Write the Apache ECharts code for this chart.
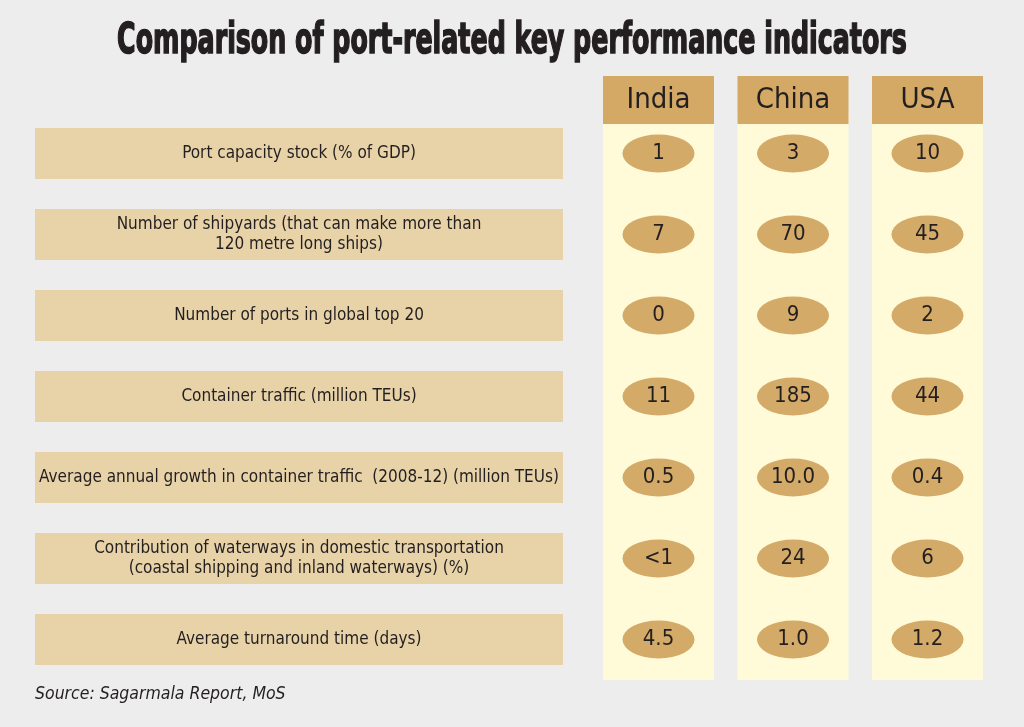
<!DOCTYPE html>
<html>
<head>
<meta charset="utf-8">
<script src="https://cdn.jsdelivr.net/npm/echarts@6/dist/echarts.min.js"></script>
<style>
  html, body { margin: 0; padding: 0; background: #ededed; }
  #main { width: 1024px; height: 727px; }
</style>
</head>
<body>
<div id="main"></div>
<script>
var countries = ['India', 'China', 'USA'];
var indicators = [
  'Port capacity stock (% of GDP)',
  'Number of shipyards (that can make more than\n120 metre long ships)',
  'Number of ports in global top 20',
  'Container traffic (million TEUs)',
  'Average annual growth in container traffic  (2008-12) (million TEUs)',
  'Contribution of waterways in domestic transportation\n(coastal shipping and inland waterways) (%)',
  'Average turnaround time (days)'
];
// values kept as printed (some are not plain numbers)
var indiaVals = ['1', '7', '0', '11', '0.5', '<1', '4.5'];
var chinaVals = ['3', '70', '9', '185', '10.0', '24', '1.0'];
var usaVals = ['10', '45', '2', '44', '0.4', '6', '1.2'];

var FONT = '"Liberation Sans Narrow", "DejaVu Sans Condensed", Arial, sans-serif';
var INK = '#231f20';
var ellipse = 'path://M0,50a50,50 0 1,0 100,0a50,50 0 1,0 -100,0z';

var chart = echarts.init(document.getElementById('main'));

function cells(vals, col) {
  return vals.map(function (v, i) { return [col, i, v]; });
}

var option = {
  backgroundColor: '#ededed',
  title: [{
    text: 'Source: Sagarmala Report, MoS',
    left: 30,
    top: 680,
    textStyle: { fontFamily: FONT, fontStyle: 'italic', fontWeight: 'normal', fontSize: 17.5, color: INK }
  }],
  graphic: [{
    type: 'text',
    x: 512,
    y: 42,
    scaleX: 0.67,
    style: {
      text: 'Comparison of port-related key performance indicators',
      align: 'center',
      verticalAlign: 'middle',
      font: 'bold 42px ' + FONT,
      fill: INK,
      stroke: INK,
      lineWidth: 1.6
    }
  }],
  grid: {
    left: 591.25,
    right: 29.25,
    top: 113,
    bottom: 47,
    outerBoundsMode: 'none'
  },
  xAxis: {
    type: 'category',
    position: 'top',
    z: 5,
    data: countries,
    axisLine: { show: false },
    axisTick: { show: false },
    splitLine: { show: false },
    axisLabel: {
      interval: 0,
      margin: -11,
      width: 111,
      lineHeight: 48,
      align: 'center',
      backgroundColor: '#d4a965',
      color: INK,
      fontFamily: FONT,
      fontSize: 29
    }
  },
  yAxis: {
    type: 'category',
    inverse: true,
    data: indicators,
    axisLine: { show: false },
    axisTick: { show: false },
    splitLine: { show: false },
    axisLabel: {
      interval: 0,
      margin: 292.25,
      width: 528,
      height: 51,
      lineHeight: 20,
      align: 'center',
      verticalAlign: 'middle',
      backgroundColor: '#e8d3a9',
      color: INK,
      fontFamily: FONT,
      fontSize: 17
    }
  },
  series: [
    {
      type: 'bar',
      z: 1,
      data: [0, 0, 0],
      barWidth: 111,
      silent: true,
      showBackground: true,
      backgroundStyle: { color: '#fffbd8' },
      itemStyle: { opacity: 0 }
    }
  ].concat([indiaVals, chinaVals, usaVals].map(function (vals, c) {
    return {
      type: 'scatter',
      name: countries[c],
      z: 6,
      data: cells(vals, c),
      symbol: ellipse,
      symbolSize: [72, 38],
      silent: true,
      itemStyle: { color: '#d4aa68', opacity: 1 },
      label: {
        show: true,
        position: 'inside',
        formatter: function (p) { return p.value[2]; },
        color: INK,
        fontFamily: FONT,
        fontSize: 22
      }
    };
  }))
};

chart.setOption(option);
</script>
</body>
</html>
